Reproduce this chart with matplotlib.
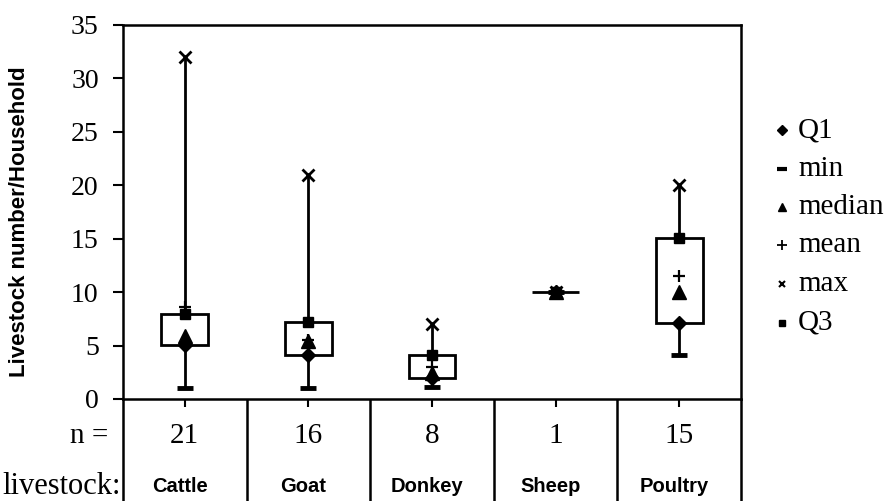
import matplotlib
matplotlib.use("Agg")
import matplotlib.pyplot as plt
import matplotlib.transforms as mtransforms
from matplotlib.lines import Line2D

# ---- data ----
categories = ["Cattle", "Goat", "Donkey", "Sheep", "Poultry"]
n_values = [21, 16, 8, 1, 15]
q1 = [5.1, 4.1, 2.0, 10, 7.1]
vmin = [1.0, 1.0, 1.1, 10, 4.1]
median = [5.9, 5.4, 2.4, 10, 10.0]
mean = [8.6, 5.5, 3.0, 10, 11.5]
vmax = [32.0, 21.0, 7.0, 10, 20.0]
q3 = [8.0, 7.2, 4.1, 10, 15.1]
yticks = [0, 5, 10, 15, 20, 25, 30, 35]
legend_labels = ["Q1", "min", "median", "mean", "max", "Q3"]

SERIF = "Liberation Serif"
SANS = "Liberation Sans"

W, H = 888, 501
fig = plt.figure(figsize=(W / 100, H / 100), dpi=100)
ax = fig.add_axes([123 / W, 1 - 399 / H, 618 / W, 374 / H])

x = list(range(1, len(categories) + 1))
box_w = 0.38

# whiskers
for xi, lo, hi in zip(x, vmin, vmax):
    ax.plot([xi, xi], [lo, hi], color="black", lw=2, zorder=1, solid_capstyle="butt")
# boxes
for xi, a, b in zip(x, q1, q3):
    ax.add_patch(plt.Rectangle((xi - box_w / 2, a), box_w, b - a, facecolor="white",
                               edgecolor="black", lw=2, zorder=2))

mk = dict(color="black", linestyle="none", zorder=3)
ax.plot(x, mean, marker="+", markersize=8.5, markeredgewidth=1.6, **mk)
ax.plot(x, q1, marker="D", markersize=7, **mk)
ax.plot(x, vmin, marker="_", markersize=11, markeredgewidth=3.5, **mk)
ax.plot(x, median, marker="^", markersize=10, **mk)
ax.plot(x, vmax, marker="x", markersize=8, markeredgewidth=2, **mk)
ax.plot(x, q3, marker="s", markersize=7, **mk)

ax.set_xlim(0.5, len(categories) + 0.5)
ax.set_ylim(0, 35)
ax.set_yticks(yticks)
ax.set_yticklabels([str(t) for t in yticks], fontfamily=SERIF, fontsize=20)
ax.set_xticks(x)
ax.set_xticklabels([])
ax.tick_params(axis="y", direction="out", length=7.5, width=1.5, pad=10)
ax.tick_params(axis="x", direction="out", length=6, width=1.5)
for s in ax.spines.values():
    s.set_linewidth(1.8)

# table below the axis
trans = mtransforms.blended_transform_factory(ax.transData, ax.transAxes)
bottom_frac = -102 / 374
for b in [i + 0.5 for i in range(len(categories) + 1)]:
    ax.plot([b, b], [0, bottom_frac], transform=trans, clip_on=False,
            color="black", lw=1.8, solid_capstyle="butt")

for xi, nv, cat in zip(x, n_values, categories):
    ax.text(xi, (399 - 436) / 374, str(nv), transform=trans, ha="center", va="center",
            fontfamily=SERIF, fontsize=21)
    ax.text(xi - 0.04, (399 - 486) / 374, cat, transform=trans, ha="center", va="center",
            fontfamily=SANS, fontweight="bold", fontsize=14.5)

fig.text(108 / W, 1 - 436 / H, "n =", ha="right", va="center", fontfamily=SERIF, fontsize=21)
fig.text(2 / W, 1 - 487 / H, "livestock:", ha="left", va="center", fontfamily=SERIF,
         fontsize=22, zorder=0)

fig.text(20 / W, 1 - 222 / H, "Livestock number/Household", rotation=90, ha="center",
         va="center", fontfamily=SANS, fontweight="bold", fontsize=16)

# legend
leg_markers = [("D", 5, 1), ("_", 7, 3), ("^", 6, 1), ("+", 7, 1.3), ("x", 5, 1.5), ("s", 5, 1)]
for i, (lab, (m, ms, mew)) in enumerate(zip(legend_labels, leg_markers)):
    yy = 1 - (130 + 38.5 * i) / H
    fig.add_artist(Line2D([782 / W], [yy], marker=m, markersize=ms, markeredgewidth=mew,
                          color="black", linestyle="none", transform=fig.transFigure))
    fig.text(798 / W, yy, lab, ha="left", va="center", fontfamily=SERIF, fontsize=21)

fig.savefig("out.png", dpi=100)
